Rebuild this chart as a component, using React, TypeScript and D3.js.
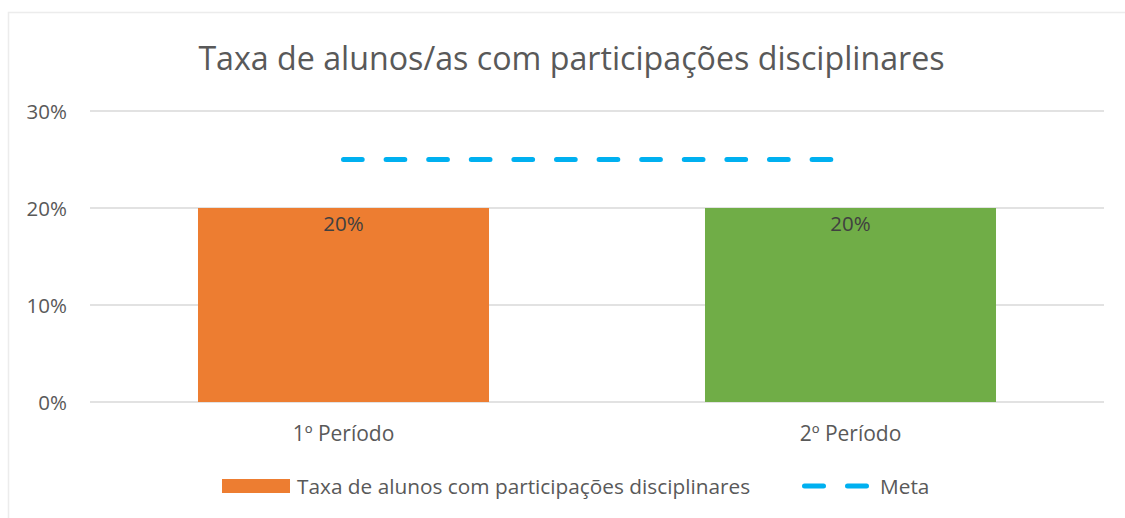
import React from "react";
import * as d3 from "d3";

const categories = ["1º Período", "2º Período"];
const taxaValues = [0.2, 0.2];
const metaValues = [0.25, 0.25];
const barColors = ["#ED7D31", "#70AD47"];
const yTicks = [0, 0.1, 0.2, 0.3];
const title = "Taxa de alunos/as com participações disciplinares";
const legendLabels = ["Taxa de alunos com participações disciplinares", "Meta"];

const W = 1125;
const H = 518;
const font = "'Open Sans', sans-serif";

const App = () => {
  const x = d3.scaleBand<string>().domain(categories).range([90, 1104]);
  const y = d3.scaleLinear().domain([0, 0.3]).range([402, 111]);
  const fmt = d3.format(".0%");
  const barW = x.bandwidth() * 0.574;
  const cx = (c: string) => (x(c) as number) + x.bandwidth() / 2;

  const metaLine = d3
    .line<number>()
    .x((_, i) => cx(categories[i]))
    .y((d) => y(d));

  return (
    <svg
      width={W}
      height={H}
      style={{ position: "absolute", left: 0, top: 0, display: "block", background: "#fff" }}
      fontFamily={font}
    >
      <rect x={8.5} y={12.5} width={W} height={H} fill="#fff" stroke="#ececec" strokeWidth={1.5} />

      <text x={571.5} y={57} textAnchor="middle" dominantBaseline="central" fontSize={32.2} fill="#595959">
        {title}
      </text>

      {yTicks.map((t) => (
        <g key={t}>
          <line x1={90} x2={1104} y1={y(t)} y2={y(t)} stroke="#d9d9d9" strokeWidth={1.3} />
          <text x={67} y={y(t)} textAnchor="end" dominantBaseline="central" fontSize={20.5} fill="#595959">
            {fmt(t)}
          </text>
        </g>
      ))}

      {categories.map((c, i) => (
        <g key={c}>
          <rect
            x={cx(c) - barW / 2}
            y={y(taxaValues[i])}
            width={barW}
            height={y(0) - y(taxaValues[i])}
            fill={barColors[i]}
          />
          <text x={cx(c)} y={y(taxaValues[i]) + 15} textAnchor="middle" dominantBaseline="central" fontSize={20.5} fill="#404040">
            {fmt(taxaValues[i])}
          </text>
          <text x={cx(c)} y={433} textAnchor="middle" dominantBaseline="central" fontSize={21} fill="#595959">
            {c}
          </text>
        </g>
      ))}

      <path
        d={metaLine(metaValues) || ""}
        fill="none"
        stroke="#00B0F0"
        strokeWidth={5}
        strokeLinecap="round"
        strokeDasharray="18.7 23.9"
      />

      <g>
        <rect x={222} y={479} width={68} height={14} fill={barColors[0]} />
        <text x={297} y={486} dominantBaseline="central" fontSize={20.8} fill="#595959">
          {legendLabels[0]}
        </text>
        <line x1={804.5} x2={866.5} y1={486} y2={486} stroke="#00B0F0" strokeWidth={5} strokeLinecap="round" strokeDasharray="19 24" />
        <text x={880} y={486} dominantBaseline="central" fontSize={20.8} fill="#595959">
          {legendLabels[1]}
        </text>
      </g>
    </svg>
  );
};

export default App;
